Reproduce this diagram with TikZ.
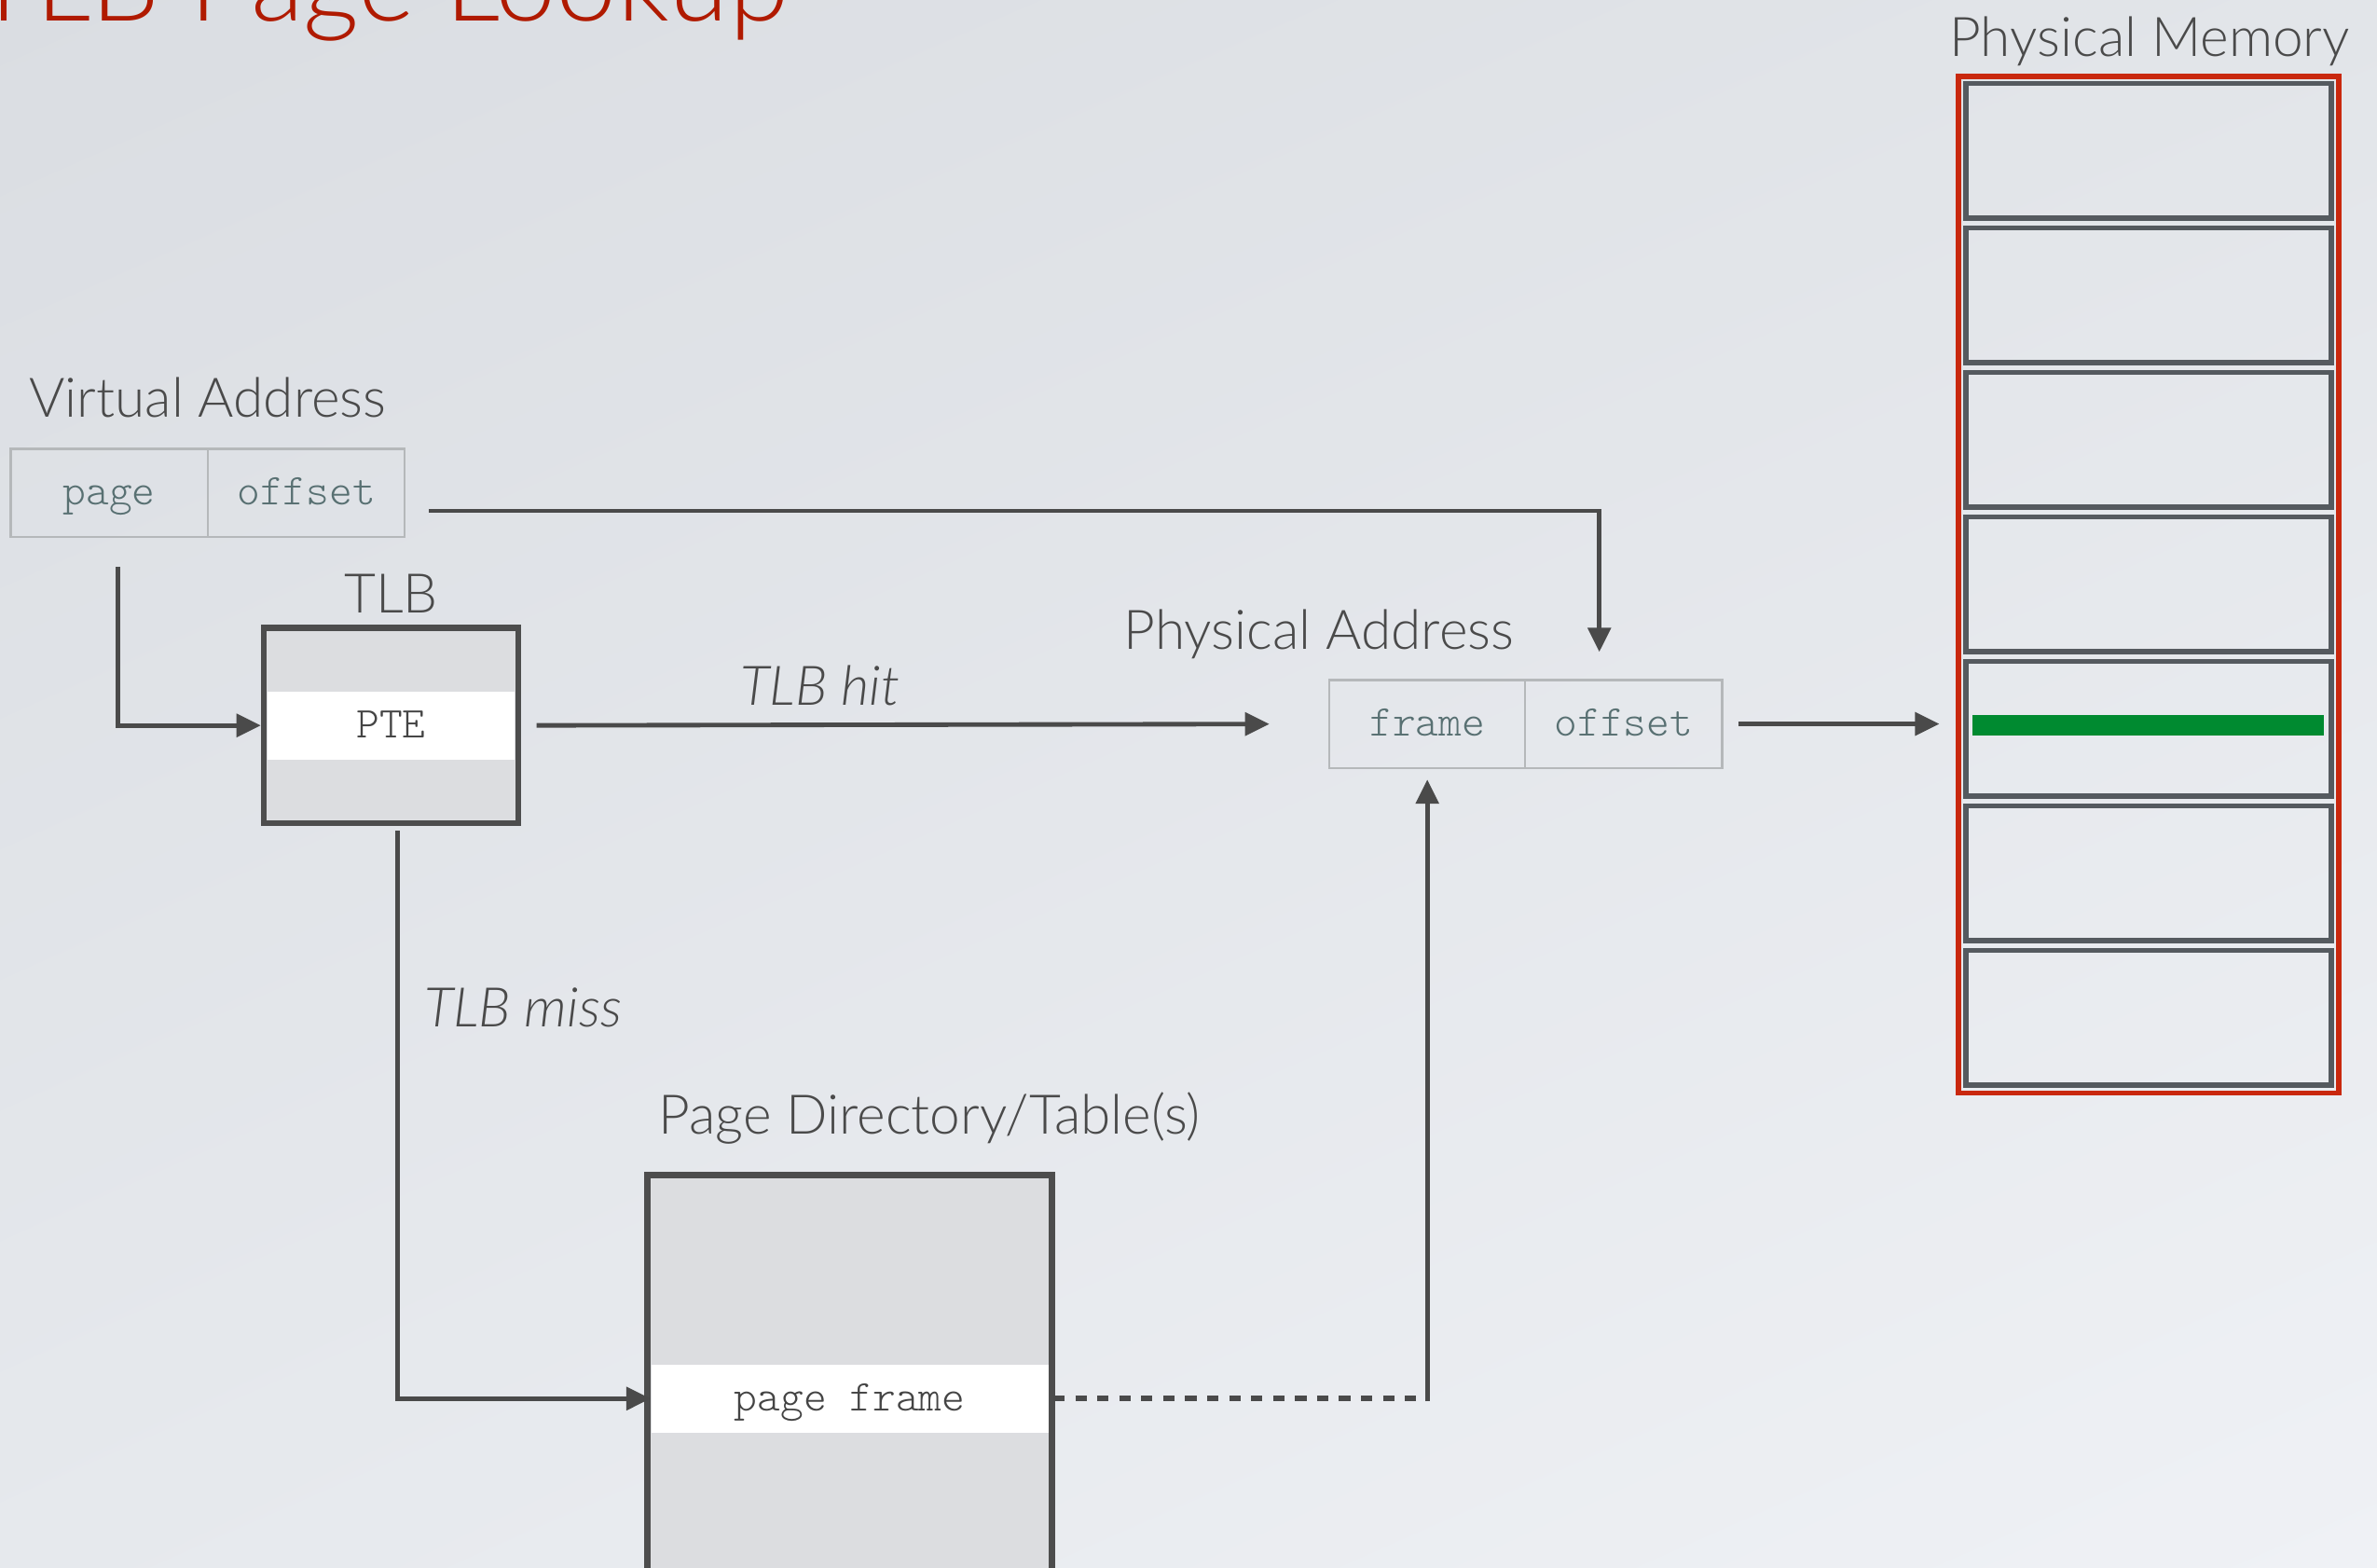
\documentclass[tikz,border=0pt]{standalone}
\usepackage{fontspec}
\setmainfont{Lato}[UprightFont={* Light}, ItalicFont={* Light Italic}]
\newfontfamily\cellmono{Latin Modern Mono Light}
\usetikzlibrary{arrows.meta,calc,shadings}

\definecolor{bgUL}{HTML}{DADDE2}
\definecolor{bgUR}{HTML}{E2E5E9}
\definecolor{bgLL}{HTML}{E6E9ED}
\definecolor{bgLR}{HTML}{EFF1F5}
\definecolor{titleRed}{HTML}{B01A00}
\definecolor{memRed}{HTML}{C9280E}
\definecolor{labelC}{HTML}{4A4A4A}
\definecolor{lineC}{HTML}{4A4A4A}
\definecolor{boxC}{HTML}{4D4D4D}
\definecolor{boxFill}{HTML}{DCDDE0}
\definecolor{cellC}{HTML}{B5B8BA}
\definecolor{monoC}{HTML}{587072}
\definecolor{monoDark}{HTML}{444444}
\definecolor{slotC}{HTML}{555A5F}
\definecolor{hitGreen}{HTML}{008A30}

\newcommand{\labelfont}{\fontsize{20.5}{24}\selectfont}
\newcommand{\cellfont}{\cellmono\fontsize{16.5}{19}\selectfont}

\begin{document}
\begin{tikzpicture}[x=0.02cm,y=-0.02cm,
  lbl/.style={text=labelC, font=\labelfont, inner sep=0},
  cell/.style={draw=cellC, line width=0.8pt, minimum width=2.6cm, minimum height=1.16cm,
    inner sep=0, text height=9pt, text depth=0pt, font=\cellfont, text=monoC},
  box/.style={draw=boxC, fill=boxFill, line width=2.3pt, inner sep=0},
  band/.style={fill=white, inner sep=0, minimum height=0.9cm, text height=9pt, text depth=0pt,
    font=\cellfont, text=monoDark},
  conn/.style={draw=lineC, line width=1.7pt},
  arr/.style={conn, -{Triangle[length=0.32cm,width=0.3cm]}},
  slot/.style={draw=slotC, line width=2pt, minimum width=4.82cm, minimum height=1.78cm, inner sep=0}]

% canvas and background
\clip (0,0) rectangle (1568,1034);
\shade[upper left=bgUL, upper right=bgUR, lower left=bgLL, lower right=bgLR]
  (0,0) rectangle (1568,1034);

% title
\node[anchor=base east, text=titleRed, font=\fontsize{41}{48}\selectfont, inner sep=0]
  (title) at (521,14) {TLB Page Lookup};

% virtual address
\node[lbl, anchor=base] (valabel) at (137,275) {Virtual Address};
\node[cell] (vapage) at (72,325) {page};
\node[cell] (vaoff) at (202,325) {offset};

% TLB
\node[lbl, anchor=base] (tlblabel) at (258,404) {TLB};
\node[box, minimum width=3.36cm, minimum height=2.58cm] (tlb) at (258,478.5) {};
\node[band, minimum width=3.26cm] (pte) at (258,478.5) {PTE};

% physical address
\node[lbl, anchor=base] (palabel) at (870,428) {Physical Address};
\node[cell, minimum width=2.58cm] (paframe) at (941.5,477.5) {frame};
\node[cell] (paoff) at (1071,477.5) {offset};

% page directory / tables
\node[lbl, anchor=base] (pdlabel) at (613,748) {Page Directory/Table(s)};
\node[box, minimum width=5.34cm, minimum height=5.6cm, anchor=north] (pd) at (560.5,773) {};
\node[band, minimum width=5.24cm] (pf) at (560.5,922.5) {page\ frame};

% physical memory
\node[lbl, anchor=base] (pmlabel) at (1418,37) {Physical Memory};
\node[draw=memRed, line width=2pt, minimum width=5.02cm, minimum height=13.41cm, inner sep=0]
  (pm) at (1417.5,385.75) {};
\foreach \i in {0,...,6}
  \node[slot] (slot\i) at (1417.5,{99.5+95.3*\i}) {};
\node[fill=hitGreen, minimum width=4.64cm, minimum height=0.27cm, inner sep=0]
  (hit) at (1417,478.5) {};

% connector end points
\coordinate (vaPageOut) at (78,374);
\coordinate (vaOffOut) at (283,337);
\coordinate (paOffIn) at (1055,430);
\coordinate (tlbOut) at (262,548);
\coordinate (frameCorner) at (paframe.south |- pf.east);

% connectors
\draw[arr] (vaPageOut) |- (tlb.west);
\draw[arr] (vaOffOut) -| (paOffIn);
\draw[arr, shorten <=0.2cm, shorten >=0.78cm] (tlb.east) -- (paframe.west);
\draw[arr] (tlbOut) |- (pf.west);
\draw[conn, line width=2pt, dash pattern=on 0.15cm off 0.14cm] ([xshift=0.06cm]pf.east) -- (frameCorner);
\draw[arr, shorten >=0.14cm] ([yshift=-0.035cm]frameCorner) -- (paframe.south);
\draw[arr, shorten <=0.2cm, shorten >=0.22cm] (paoff.east) -- (pm.west |- paoff.east);

% connector labels
\node[lbl, anchor=base, font=\labelfont\itshape] (hitlabel) at (541,465) {TLB hit};
\node[lbl, anchor=base, font=\labelfont\itshape] (misslabel) at (345,677) {TLB miss};
\end{tikzpicture}
\end{document}
